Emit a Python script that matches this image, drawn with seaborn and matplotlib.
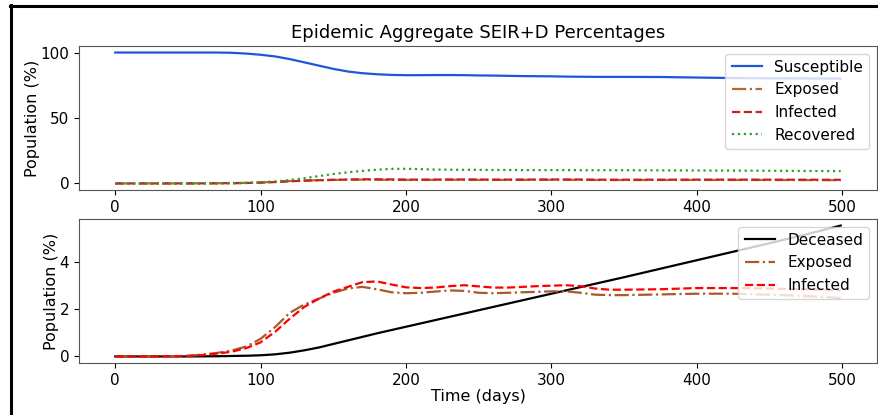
import matplotlib
matplotlib.use("Agg")
import matplotlib.pyplot as plt
from matplotlib.lines import Line2D
import seaborn as sns
import numpy as np

days = [0, 20, 40, 50, 60, 70, 80, 90, 100, 110, 120, 130, 140, 150, 160, 170, 180, 190,
        200, 210, 220, 230, 240, 250, 260, 270, 280, 290, 300, 310, 320, 330, 340, 350,
        375, 400, 425, 450, 475, 499]

susceptible = [100, 100, 100, 100, 100, 100, 99.8, 99.2, 98.3, 97.0, 95.0, 92.5, 90.0, 87.5,
               85.5, 84.2, 83.4, 82.9, 82.7, 82.7, 82.8, 82.8, 82.7, 82.5, 82.4, 82.2, 82.0,
               81.9, 81.8, 81.6, 81.5, 81.4, 81.4, 81.4, 81.3, 80.9, 80.5, 80.3, 80.2, 80.1]

exposed = [0, 0, 0.01, 0.03, 0.08, 0.15, 0.25, 0.42, 0.75, 1.25, 1.85, 2.2, 2.45, 2.7,
           2.88, 2.95, 2.85, 2.72, 2.68, 2.7, 2.75, 2.8, 2.78, 2.7, 2.68, 2.7, 2.72, 2.74,
           2.76, 2.76, 2.7, 2.62, 2.6, 2.6, 2.63, 2.66, 2.66, 2.62, 2.56, 2.48]

infected = [0, 0, 0.01, 0.02, 0.06, 0.12, 0.2, 0.35, 0.6, 1.05, 1.6, 2.1, 2.45, 2.75,
            2.95, 3.15, 3.18, 3.05, 2.93, 2.9, 2.92, 2.98, 3.02, 2.97, 2.92, 2.92, 2.95,
            2.98, 3.0, 3.02, 2.98, 2.88, 2.83, 2.83, 2.85, 2.9, 2.9, 2.88, 2.85, 2.8]

recovered = [0, 0, 0, 0, 0, 0.1, 0.2, 0.4, 0.8, 1.5, 2.6, 4.0, 5.6, 7.2, 8.5, 9.6, 10.5,
             11.1, 11.2, 10.9, 10.6, 10.5, 10.4, 10.4, 10.3, 10.3, 10.2, 10.2, 10.2, 10.2,
             10.1, 10.1, 10.1, 10.1, 10.0, 9.9, 9.8, 9.7, 9.55, 9.4]

deceased = [0, 0, 0, 0, 0.005, 0.01, 0.02, 0.03, 0.05, 0.09, 0.16, 0.26, 0.38, 0.53, 0.68,
            0.83, 0.98, 1.12, 1.26, 1.40, 1.54, 1.68, 1.82, 1.96, 2.10, 2.24, 2.38, 2.52,
            2.66, 2.80, 2.94, 3.08, 3.22, 3.36, 3.72, 4.08, 4.44, 4.80, 5.17, 5.55]

plt.rcParams['font.family'] = ['DejaVu Sans']
plt.rcParams['font.size'] = 11

fig = plt.figure(figsize=(8.79, 4.15), dpi=100)
ax1 = fig.add_axes([0.0899, 0.5422, 0.9078, 0.347])
ax2 = fig.add_axes([0.0899, 0.1253, 0.9078, 0.347])

lw = 1.6
sns.lineplot(x=days, y=susceptible, ax=ax1, color='#1f55dd', linewidth=lw, label='Susceptible')
sns.lineplot(x=days, y=exposed, ax=ax1, color='#b5682f', linewidth=lw, linestyle='-.', label='Exposed')
sns.lineplot(x=days, y=infected, ax=ax1, color='#c8201e', linewidth=lw, linestyle='--', label='Infected')
sns.lineplot(x=days, y=recovered, ax=ax1, color='#2ca02c', linewidth=lw, linestyle=':', label='Recovered')

sns.lineplot(x=days, y=deceased, ax=ax2, color='black', linewidth=lw, label='Deceased')
sns.lineplot(x=days, y=exposed, ax=ax2, color='#a85a2a', linewidth=lw, linestyle='-.', label='Exposed')
sns.lineplot(x=days, y=infected, ax=ax2, color='red', linewidth=lw, linestyle='--', label='Infected')

for ax in (ax1, ax2):
    ax.set_xticks([0, 100, 200, 300, 400, 500])
    ax.set_ylabel('Population (%)', fontsize=11.5, labelpad=0.5)
    ax.tick_params(labelsize=11)
    for s in ax.spines.values():
        s.set_color('#555555')
    ax.legend(loc='upper right', fontsize=11)
ax1.set_yticks([0, 50, 100])
ax2.set_yticks([0, 2, 4])
ax1.set_title('Epidemic Aggregate SEIR+D Percentages', fontsize=13)
ax2.set_xlabel('Time (days)', fontsize=11.5, labelpad=1)

# screenshot frame
fig.add_artist(Line2D([10.5 / 879, 10.5 / 879], [0, 1 - 5 / 415], color='black', linewidth=2.2,
                      transform=fig.transFigure))
fig.add_artist(Line2D([9.5 / 879, 1], [1 - 6 / 415, 1 - 6 / 415], color='black', linewidth=2.2,
                      transform=fig.transFigure))

fig.savefig('out.png', dpi=100)
